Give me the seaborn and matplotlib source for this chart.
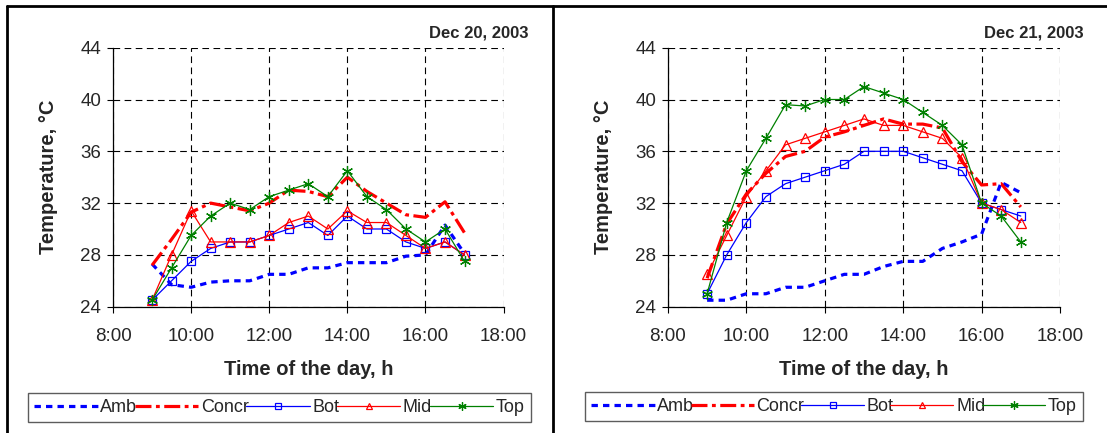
import matplotlib
matplotlib.use("Agg")
import matplotlib.pyplot as plt
import seaborn as sns
import pandas as pd
from matplotlib.lines import Line2D
from matplotlib.ticker import FixedLocator, FuncFormatter

# Measurement times (hours of the day), every 30 minutes from 9:00 to 17:00
hours = [9.0, 9.5, 10.0, 10.5, 11.0, 11.5, 12.0, 12.5, 13.0,
         13.5, 14.0, 14.5, 15.0, 15.5, 16.0, 16.5, 17.0]

# Dec 20, 2003 temperatures, deg C
dec20_amb = [27.3, 25.7, 25.5, 25.9, 26.0, 26.0, 26.5, 26.5, 27.0,
             27.0, 27.4, 27.4, 27.4, 27.9, 28.0, 30.3, 28.1]
dec20_concr = [27.2, 29.2, 31.3, 32.0, 31.7, 31.4, 32.0, 33.0, 32.9,
               32.5, 34.0, 32.9, 32.0, 31.1, 30.9, 32.1, 29.7]
dec20_bot = [24.5, 26.0, 27.5, 28.5, 29.0, 29.0, 29.5, 30.0, 30.5,
             29.5, 31.0, 30.0, 30.0, 29.0, 28.5, 29.0, 28.0]
dec20_mid = [24.5, 28.0, 31.4, 29.0, 29.0, 29.0, 29.5, 30.5, 31.0,
             30.0, 31.4, 30.5, 30.5, 29.5, 28.5, 29.0, 28.0]
dec20_top = [24.5, 27.0, 29.5, 31.0, 32.0, 31.5, 32.5, 33.0, 33.5,
             32.5, 34.5, 32.5, 31.5, 30.0, 29.0, 30.0, 27.5]

# Dec 21, 2003 temperatures, deg C
dec21_amb = [24.5, 24.5, 25.0, 25.0, 25.5, 25.5, 26.0, 26.5, 26.5,
             27.1, 27.5, 27.5, 28.5, 29.0, 29.6, 33.6, 32.8]
dec21_concr = [26.2, 30.4, 32.7, 34.3, 35.6, 36.0, 37.1, 37.5, 38.0,
               38.5, 38.1, 38.1, 37.8, 35.2, 33.4, 33.5, 31.7]
dec21_bot = [25.0, 28.0, 30.5, 32.5, 33.5, 34.0, 34.5, 35.0, 36.0,
             36.0, 36.0, 35.5, 35.0, 34.5, 32.0, 31.5, 31.0]
dec21_mid = [26.5, 29.5, 32.5, 34.5, 36.5, 37.0, 37.5, 38.0, 38.5,
             38.0, 38.0, 37.5, 37.0, 35.5, 32.0, 31.5, 30.5]
dec21_top = [25.0, 30.5, 34.5, 37.0, 39.6, 39.5, 40.0, 40.0, 41.0,
             40.5, 40.0, 39.0, 38.0, 36.5, 32.0, 31.0, 29.0]

series_names = ["Amb", "Concr", "Bot", "Mid", "Top"]
x_ticks = [8, 10, 12, 14, 16, 18]
y_ticks = [24, 28, 32, 36, 40, 44]

BLUE = "#0000FF"
RED = "#FF0000"
GREEN = "#008000"

styles = {
    "Amb": dict(color=BLUE, lw=2.3, dashes=(2.0, 1.6), marker=None),
    "Concr": dict(color=RED, lw=2.3, dashes=(5.0, 1.4, 1.2, 1.4), marker=None),
    "Bot": dict(color=BLUE, lw=0.9, dashes=None, marker="s", ms=6),
    "Mid": dict(color=RED, lw=0.9, dashes=None, marker="^", ms=7),
    "Top": dict(color=GREEN, lw=0.9, dashes=None, marker=(6, 2, 0), ms=8),
}

sns.set_style("ticks")
plt.rcParams["font.family"] = ["Liberation Sans", "DejaVu Sans"]

fig = plt.figure(figsize=(11.07, 4.33), dpi=100)
W, H = 1107.0, 433.0


def draw_panel(ax, day_values, date_text, ylabel_x, title_x):
    frame = pd.DataFrame({"hour": hours})
    for name, vals in zip(series_names, day_values):
        frame[name] = vals
    for name in series_names:
        st = styles[name]
        kws = dict(color=st["color"], linewidth=st["lw"])
        if st["marker"] is not None:
            kws.update(marker=st["marker"], markersize=st["ms"],
                       markerfacecolor="none", markeredgecolor=st["color"],
                       markeredgewidth=0.9)
        sns.lineplot(data=frame, x="hour", y=name, ax=ax, legend=False, **kws)
        line = ax.get_lines()[-1]
        if st["dashes"] is not None:
            line.set_dashes(st["dashes"])
            line.set_dash_capstyle("butt")

    ax.set_xlim(8, 18)
    ax.set_ylim(24, 44)
    ax.xaxis.set_major_locator(FixedLocator(x_ticks))
    ax.yaxis.set_major_locator(FixedLocator(y_ticks))
    ax.xaxis.set_major_formatter(FuncFormatter(lambda v, p: f"{int(v)}:00"))
    ax.grid(True, color="black", linewidth=0.8, linestyle=(0, (6, 4)))
    for s in ("top", "right"):
        ax.spines[s].set_visible(False)
    for s in ("left", "bottom"):
        ax.spines[s].set_color("black")
        ax.spines[s].set_linewidth(0.9)
    ax.tick_params(axis="both", direction="out", length=4.5, width=0.8,
                   color="black", labelsize=13.5, pad=4)
    ax.tick_params(axis="x", pad=11)
    ax.set_xlabel("Time of the day, h", fontsize=14.5, fontweight="bold")
    ax.set_ylabel("Temperature, \u00b0C", fontsize=14.5, fontweight="bold")
    ax.xaxis.set_label_coords(0.5, -0.205)
    ax.yaxis.set_label_coords(ylabel_x, 0.5)
    ax.text(title_x, 1.057, date_text, transform=ax.transAxes, ha="right",
            va="center", fontsize=12, fontweight="bold")


def add_legend(ax, box):
    handles = []
    for name in series_names:
        st = styles[name]
        h = Line2D([], [], color=st["color"], linewidth=st["lw"] if st["marker"] is None else 0.9,
                   marker=st["marker"] if st["marker"] is not None else None,
                   markersize=(st["ms"] - 2) if st["marker"] is not None else 0,
                   markerfacecolor="none", markeredgecolor=st["color"],
                   markeredgewidth=0.9)
        if st["dashes"] is not None:
            h.set_dashes(st["dashes"])
        handles.append(h)
    leg = ax.legend(handles, series_names, loc="center", ncol=5, mode="expand",
                    bbox_to_anchor=box, bbox_transform=fig.transFigure,
                    fontsize=13, frameon=True, fancybox=False,
                    handlelength=3.5, handletextpad=0.15, columnspacing=0.3,
                    borderpad=0.35, borderaxespad=0.0, numpoints=1)
    frame = leg.get_frame()
    frame.set_edgecolor("#333333")
    frame.set_linewidth(1.0)


ax1 = fig.add_axes([113 / W, 1 - 306.7 / H, 390.6 / W, 259 / H])
ax2 = fig.add_axes([667.9 / W, 1 - 306.7 / H, 392.1 / W, 259 / H])

draw_panel(ax1, [dec20_amb, dec20_concr, dec20_bot, dec20_mid, dec20_top],
           "Dec 20, 2003", -0.14, 1.0625)
draw_panel(ax2, [dec21_amb, dec21_concr, dec21_bot, dec21_mid, dec21_top],
           "Dec 21, 2003", -0.14, 1.061)

add_legend(ax1, (28 / W, 1 - 424 / H, 503 / W, 33 / H))
add_legend(ax2, (585 / W, 1 - 425 / H, 498 / W, 37 / H))

# Panel frame lines
for xs, ys in [((7 / W, 1.0), (1 - 5.5 / H, 1 - 5.5 / H)),
               ((7 / W, 7 / W), (0.0, 1 - 5.5 / H)),
               ((553 / W, 553 / W), (0.0, 1 - 5.5 / H))]:
    fig.add_artist(Line2D(xs, ys, transform=fig.transFigure, color="black",
                          linewidth=2.0))

fig.savefig("out.png", dpi=100)
